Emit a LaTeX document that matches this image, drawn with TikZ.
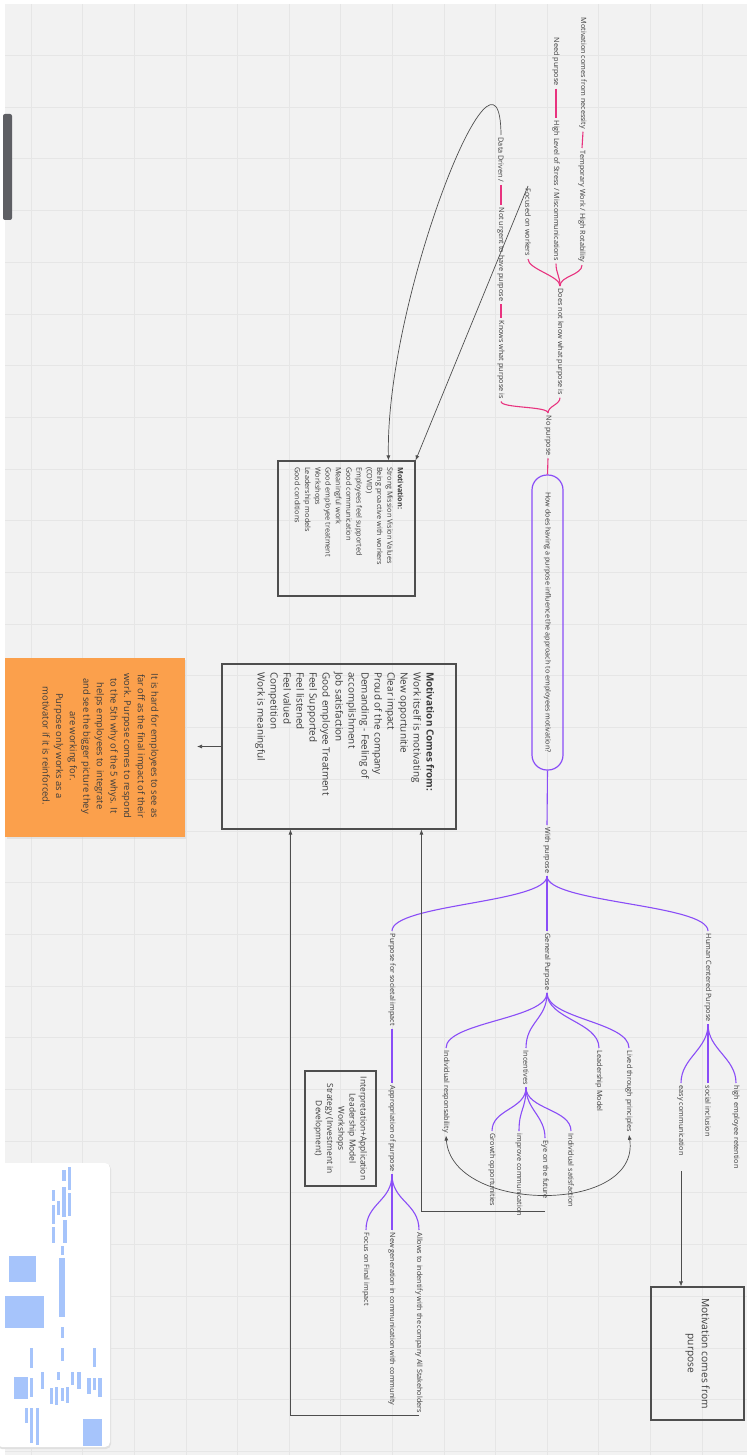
\documentclass[tikz,border=0pt]{standalone}
\usepackage{fontspec}
\setmainfont{Open Sans}
\usetikzlibrary{arrows.meta,calc}
\definecolor{canvas}{HTML}{F2F2F2}
\definecolor{gridc}{HTML}{E6E6E6}
\definecolor{pinkc}{HTML}{E8337F}
\definecolor{purc}{HTML}{8A4DF7}
\definecolor{ink}{HTML}{3C3C3C}
\definecolor{linec}{HTML}{4E4E4E}
\definecolor{note}{HTML}{FBA04C}
\definecolor{mapblue}{HTML}{A6C4FB}
\definecolor{tabc}{HTML}{5E5F64}
\begin{document}
\begin{tikzpicture}[x=1pt,y=-1pt,
  lbl/.style={rotate=-90, anchor=west, font=\fontsize{7.25}{8.5}\selectfont, text=ink, inner sep=2.5pt},
  pk/.style={draw=pinkc, line width=1.1pt},
  pu/.style={draw=purc, line width=1.1pt},
  gl/.style={draw=linec, line width=0.7pt},
  arr/.style={-{Latex[length=5pt,width=4pt]}},
  frm/.style={draw=linec, line width=1.1pt},
  blk/.style={fill=mapblue, draw=none},
]
% canvas and grid
\useasboundingbox (0,0) rectangle (747,1455);
\fill[canvas] (0,0) rectangle (747,1455);
\foreach \i in {0,...,14} \draw[gridc, line width=0.6pt] (31+51.6*\i,0) -- ++(0,1455);
\foreach \j in {0,...,28} \draw[gridc, line width=0.6pt] (0,3.6+51.7*\j) -- ++(747,0);
\fill[white] (0,0) rectangle (747,4);
\fill[white] (0,0) rectangle (4.5,1455);
% side tab
\fill[tabc, rounded corners=2pt] (3,114) rectangle (12,220);

% ---------- "no purpose" branch (pink) ----------
\node[lbl] (nec) at (583,15) {Motivation comes from necessity};
\node[lbl] (temp) at (582,148) {Temporary Work / High Rotability};
\node[lbl] (need) at (556,35) {Need purpose};
\node[lbl] (stress) at (556,118) {High Level of Stress / Miscommunications};
\node[lbl] (data) at (501,135) {Data Driven /};
\node[lbl] (urgent) at (501,205) {Not urgent to have purpose};
\node[lbl] (knows) at (501,318) {Knows what purpose is};
\node[lbl] (focus) at (528,186) {Focused on workers};
\node[lbl] (dnk) at (560,286) {Does not know what purpose is};
\node[lbl] (nop) at (548,413) {No purpose};

\draw[pk] (nec.east) -- (temp.west);
\draw[pk] (need.east) -- (stress.west);
\draw[pk] (data.east) -- (urgent.west);
\draw[pk] (urgent.east) -- (knows.west);
\foreach \c in {temp,stress,focus}
  \draw[pk] (dnk.west) .. controls +(0,-10) and +(0,10) .. (\c.east);
\foreach \c in {dnk,knows}
  \draw[pk] (nop.west) .. controls +(0,-7) and +(0,7) .. (\c.east);

% ---------- central question ----------
\node[rotate=-90, draw=purc, line width=1.2pt, rounded corners=15pt,
      minimum width=295pt, minimum height=31pt, inner sep=0pt,
      font=\fontsize{7.2}{8.5}\selectfont, text=ink] (q) at (547.5,622.5)
  {How does having a purpose influence the approach to employees motivation?};
\draw[pk] (nop.east) -- (q.west);
\node[lbl] (withp) at (547,825) {With purpose};
\draw[pu] (q.east) -- (withp.west);

% ---------- "with purpose" tree (purple) ----------
\node[lbl] (soc) at (392,931) {Purpose for societal impact};
\node[lbl] (gen) at (547,931) {General Purpose};
\node[lbl] (hum) at (708,931) {Human Centered Purpose};
\foreach \c in {soc,gen,hum}
  \draw[pu] (withp.east) .. controls +(0,27) and +(0,-27) .. (\c.west);

\node[lbl] (appr) at (392,1083) {Appropriation of purpose};
\draw[pu] (soc.east) -- (appr.west);

\node[lbl] (indr) at (446,1048) {Individual responsability};
\node[lbl] (inc) at (526,1048) {Incentives};
\node[lbl] (lead) at (599,1048) {Leadership Model};
\node[lbl] (lived) at (629,1048) {Lived through principles};
\foreach \c in {indr,inc,lead,lived}
  \draw[pu] (gen.east) .. controls +(0,26) and +(0,-26) .. (\c.west);

\node[lbl] (growth) at (492,1131) {Growth opportunities};
\node[lbl] (impr) at (519,1131) {improve communication};
\node[lbl] (eye) at (545,1138) {Eye on the future};
\node[lbl] (isat) at (571,1131) {Individual satisfaction};
\foreach \c in {growth,impr,eye,isat}
  \draw[pu] (inc.east) .. controls +(0,22) and +(0,-22) .. (\c.west);

\node[lbl] (easy) at (681,1083) {easy communication};
\node[lbl] (social) at (708,1083) {social inclusion};
\node[lbl] (high) at (736,1083) {high employee retention};
\foreach \c in {easy,social,high}
  \draw[pu] (hum.east) .. controls +(0,25) and +(0,-25) .. (\c.west);

\node[lbl] (final) at (366,1230) {Focus on Final impact};
\node[lbl] (newgen) at (392,1230) {New generation in communication with community};
\node[lbl] (allows) at (419,1230) {Allows to indentify with the company All Stakeholders};
\foreach \c in {final,newgen,allows}
  \draw[pu] (appr.east) .. controls +(0,27) and +(0,-27) .. (\c.west);

% ---------- boxes ----------
\node[frm, minimum width=137pt, minimum height=135pt, inner sep=0pt] (mbox) at (346.5,528.5) {};
\node[rotate=-90, anchor=north west, align=left, inner sep=0pt, text=ink,
      font=\fontsize{7.3}{10.3}\selectfont] (mtxt) at (403.5,467)
  {\textbf{Motivation:}\\Strong Mission Vision Values\\Being proactive with workers\\(COVID)\\Employees feel supported\\Good communication\\Meaningful work\\Good employee treatment\\Workshops\\Leadership models\\Good conditions};

\node[frm, minimum width=234pt, minimum height=165pt, inner sep=0pt] (big) at (339,746.5) {};
\node[rotate=-90, anchor=north west, align=left, inner sep=0pt, text=ink,
      font=\fontsize{9.9}{13}\selectfont] (btxt) at (434.5,672)
  {\textbf{Motivation Comes from:}\\Work itself is motivating\\New opportunitie\\Clear impact\\Proud of the company\\Demanding - Feeling of\\accomplishment\\Job satisfaction\\Good employee Treatment\\Feel Supported\\Feel listened\\Feel valued\\Competition\\Work is meaningful};

\fill[black!20, opacity=0.4] (6.5,659.5) rectangle (186,838.5);
\node[fill=note, minimum width=180pt, minimum height=179pt, inner sep=0pt] (note) at (95,747.5) {};
\node[rotate=-90, align=center, inner sep=0pt, text=ink,
      font=\fontsize{9.4}{13.6}\selectfont] (ntxt) at (100.5,746)
  {It is hard for employees to see as\\far off as the final impact of their\\work. Purpose comes to respond\\to the 5th why of the 5 whys. It\\helps employees to integrate\\and see the bigger picture they\\are working for.\\Purpose only works as a\\motivator if it is reinforced.};

\node[rotate=-90, frm, minimum width=115pt, minimum height=71pt, inner sep=0pt, align=center,
      text=ink, font=\fontsize{8.4}{11.2}\selectfont] (strat) at (340.5,1128.5)
  {Interpretation+Application\\Leadership Model\\Workshops\\Strategy (Investment in\\Development)};

\node[rotate=-90, frm, minimum width=133pt, minimum height=93pt, inner sep=0pt, align=center,
      text=ink, font=\fontsize{10.2}{14}\selectfont] (mcp) at (697.5,1353.5)
  {Motivation comes from\\purpose};

% ---------- grey connectors ----------
\draw[gl, arr] (data.west) .. controls (500,10) and (385,300) .. ([xshift=42pt]mbox.north);
\draw[gl, arr] (focus.west) -- (mbox.north east);
\draw[gl, {Latex[length=5pt,width=4pt]}-{Latex[length=5pt,width=4pt]}]
  (indr.east) .. controls +(6,78) and +(12,80) .. (lived.east);
\coordinate (c1) at (545,1211);
\draw[gl, arr] (c1) -| ([xshift=200pt]big.south west);
\draw[gl, arr] (allows.east) -| ([xshift=69pt]big.south west);
\coordinate (noteIn) at (197,746.5);
\draw[gl, arr] (big.west) -- (noteIn);
\draw[gl, arr, shorten <=13pt] (easy.east) -- (easy.east |- mcp.west);

% ---------- overview map ----------
\fill[black!12, rounded corners=5pt] (-3,1164) rectangle (111,1449);
\fill[white, rounded corners=5pt] (-3,1163) rectangle (110,1447);
\foreach \a/\b/\c/\d in {
  62/1170/66/1181, 68/1167/71/1190, 52/1190/55/1201, 62/1187/66/1217,
  57/1201/60/1215, 68/1193/71/1216, 52/1205/55/1224, 63/1220/67/1243,
  52/1227/55/1243, 61/1246/64/1255, 9/1256/36/1282, 59/1258/65/1317,
  5/1296/44/1328, 61/1327/64/1338, 30/1348/33/1368, 61/1348/64/1361,
  93/1348/96/1367, 14/1377/28/1399, 30/1378/33/1397, 41/1372/44/1389,
  57/1372/60/1380, 71/1372/74/1385, 77/1372/81/1389, 50/1388/53/1404,
  55/1387/58/1405, 61/1388/64/1401, 66/1387/69/1403, 87/1378/91/1394,
  93/1378/96/1390, 98/1378/102/1397, 25/1408/28/1423, 30/1408/33/1443,
  36/1408/39/1445, 83/1419/102/1446}
  \fill[blk] (\a,\b) rectangle (\c,\d);
\end{tikzpicture}
\end{document}
